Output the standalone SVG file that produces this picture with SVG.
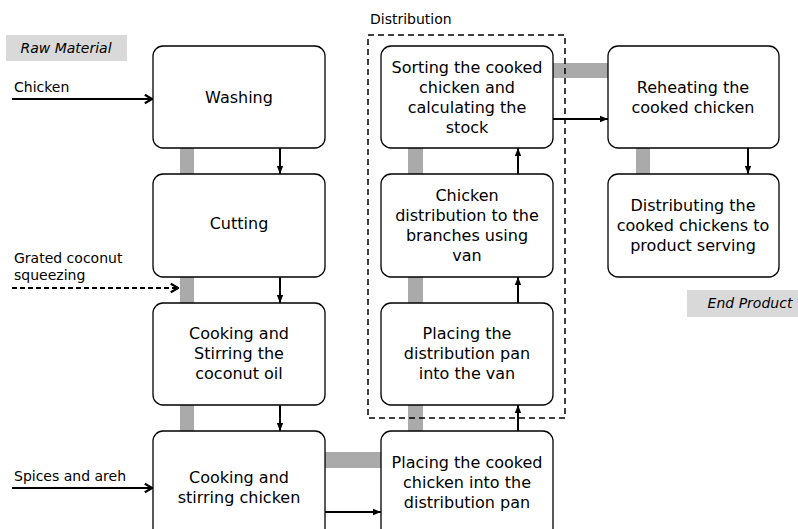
<svg xmlns="http://www.w3.org/2000/svg" width="798" height="529" viewBox="0 0 798 529">
<style>
.box{fill:#fff;stroke:#000;stroke-width:1.3}
.t{font-family:"DejaVu Sans",Verdana,sans-serif;font-size:16px;text-anchor:middle;fill:#000}
.l{font-family:"DejaVu Sans",Verdana,sans-serif;font-size:14px;fill:#000}
.it{font-style:italic}
.bar{fill:#aaaaaa}
.tag{fill:#d9d9d9}
.ar{stroke:#000;stroke-width:2;fill:none}
</style>
<defs>
<marker id="tri" viewBox="0 0 10 10" refX="10" refY="5" markerWidth="8" markerHeight="8" orient="auto" markerUnits="userSpaceOnUse">
<path d="M0,1 L10,5 L0,9 z" fill="#000"/>
</marker>
<marker id="chev" viewBox="0 0 10 10" refX="9" refY="5" markerWidth="12" markerHeight="12" orient="auto" markerUnits="userSpaceOnUse">
<path d="M3,1.5 L9,5 L3,8.5" fill="none" stroke="#000" stroke-width="1.8"/>
</marker>
</defs>
<rect width="798" height="529" fill="#fff"/>
<g id="labels">
<rect class="tag" x="6" y="35" width="121" height="26"/>
<text class="l it" x="66" y="53" text-anchor="middle">Raw Material</text>
<rect class="tag" x="687" y="290" width="111" height="27"/>
<text class="l it" x="750" y="308" text-anchor="middle">End Product</text>
<text class="l" x="14" y="92">Chicken</text>
<text class="l" x="14" y="263">Grated coconut</text>
<text class="l" x="14" y="280">squeezing</text>
<text class="l" x="14" y="481">Spices and areh</text>
<text class="l" x="370" y="24">Distribution</text>
</g>
<g id="bars">
<rect class="bar" x="180" y="148" width="14" height="26"/>
<rect class="bar" x="180" y="277" width="14" height="26"/>
<rect class="bar" x="180" y="405" width="14" height="26"/>
<rect class="bar" x="408" y="148" width="15" height="26"/>
<rect class="bar" x="408" y="277" width="15" height="26"/>
<rect class="bar" x="408" y="405" width="15" height="26"/>
<rect class="bar" x="636" y="148" width="14" height="26"/>
<rect class="bar" x="325" y="452" width="56" height="16"/>
<rect class="bar" x="552" y="63" width="57" height="15"/>
</g>
<rect id="distribution-group" x="368" y="35" width="197" height="383" fill="none" stroke="#000" stroke-width="1.5" stroke-dasharray="6 4"/>
<g id="connectors">
<line class="ar" x1="12" y1="99" x2="152" y2="99" marker-end="url(#chev)"/>
<line class="ar" x1="12" y1="288" x2="178" y2="288" stroke-dasharray="5 3" marker-end="url(#chev)"/>
<line class="ar" x1="12" y1="488" x2="152" y2="488" marker-end="url(#chev)"/>
<line class="ar" x1="280" y1="148" x2="280" y2="174" marker-end="url(#tri)"/>
<line class="ar" x1="280" y1="277" x2="280" y2="303" marker-end="url(#tri)"/>
<line class="ar" x1="280" y1="405" x2="280" y2="431" marker-end="url(#tri)"/>
<line class="ar" x1="325" y1="512" x2="381" y2="512" marker-end="url(#tri)"/>
<line class="ar" x1="518" y1="431" x2="518" y2="405" marker-end="url(#tri)"/>
<line class="ar" x1="518" y1="303" x2="518" y2="277" marker-end="url(#tri)"/>
<line class="ar" x1="518" y1="174" x2="518" y2="148" marker-end="url(#tri)"/>
<line class="ar" x1="552" y1="119" x2="608" y2="119" marker-end="url(#tri)"/>
<line class="ar" x1="748" y1="148" x2="748" y2="174" marker-end="url(#tri)"/>
</g>
<g id="washing">
<rect class="box" x="153" y="46" width="172" height="102" rx="10"/>
<text class="t" x="239" y="103">Washing</text>
</g>
<g id="cutting">
<rect class="box" x="153" y="174" width="172" height="103" rx="10"/>
<text class="t" x="239" y="229">Cutting</text>
</g>
<g id="cooking-oil">
<rect class="box" x="153" y="303" width="172" height="102" rx="10"/>
<text class="t" x="239" y="339">Cooking and</text>
<text class="t" x="239" y="359">Stirring the</text>
<text class="t" x="239" y="379">coconut oil</text>
</g>
<g id="cooking-chicken">
<rect class="box" x="153" y="431" width="172" height="110" rx="10"/>
<text class="t" x="239" y="483">Cooking and</text>
<text class="t" x="239" y="503">stirring chicken</text>
</g>
<g id="placing-cooked">
<rect class="box" x="381" y="431" width="172" height="110" rx="10"/>
<text class="t" x="467" y="468">Placing the cooked</text>
<text class="t" x="467" y="488">chicken into the</text>
<text class="t" x="467" y="508">distribution pan</text>
</g>
<g id="placing-pan">
<rect class="box" x="381" y="303" width="172" height="102" rx="10"/>
<text class="t" x="467" y="339">Placing the</text>
<text class="t" x="467" y="359">distribution pan</text>
<text class="t" x="467" y="379">into the van</text>
</g>
<g id="chicken-distribution">
<rect class="box" x="381" y="174" width="172" height="103" rx="10"/>
<text class="t" x="467" y="201">Chicken</text>
<text class="t" x="467" y="221">distribution to the</text>
<text class="t" x="467" y="241">branches using</text>
<text class="t" x="467" y="261">van</text>
</g>
<g id="sorting">
<rect class="box" x="381" y="46" width="172" height="102" rx="10"/>
<text class="t" x="467" y="73">Sorting the cooked</text>
<text class="t" x="467" y="93">chicken and</text>
<text class="t" x="467" y="113">calculating the</text>
<text class="t" x="467" y="133">stock</text>
</g>
<g id="reheating">
<rect class="box" x="608" y="46" width="171" height="102" rx="10"/>
<text class="t" x="693" y="93">Reheating the</text>
<text class="t" x="693" y="113">cooked chicken</text>
</g>
<g id="distributing">
<rect class="box" x="608" y="174" width="171" height="103" rx="10"/>
<text class="t" x="693" y="211">Distributing the</text>
<text class="t" x="693" y="231">cooked chickens to</text>
<text class="t" x="693" y="251">product serving</text>
</g>
</svg>
